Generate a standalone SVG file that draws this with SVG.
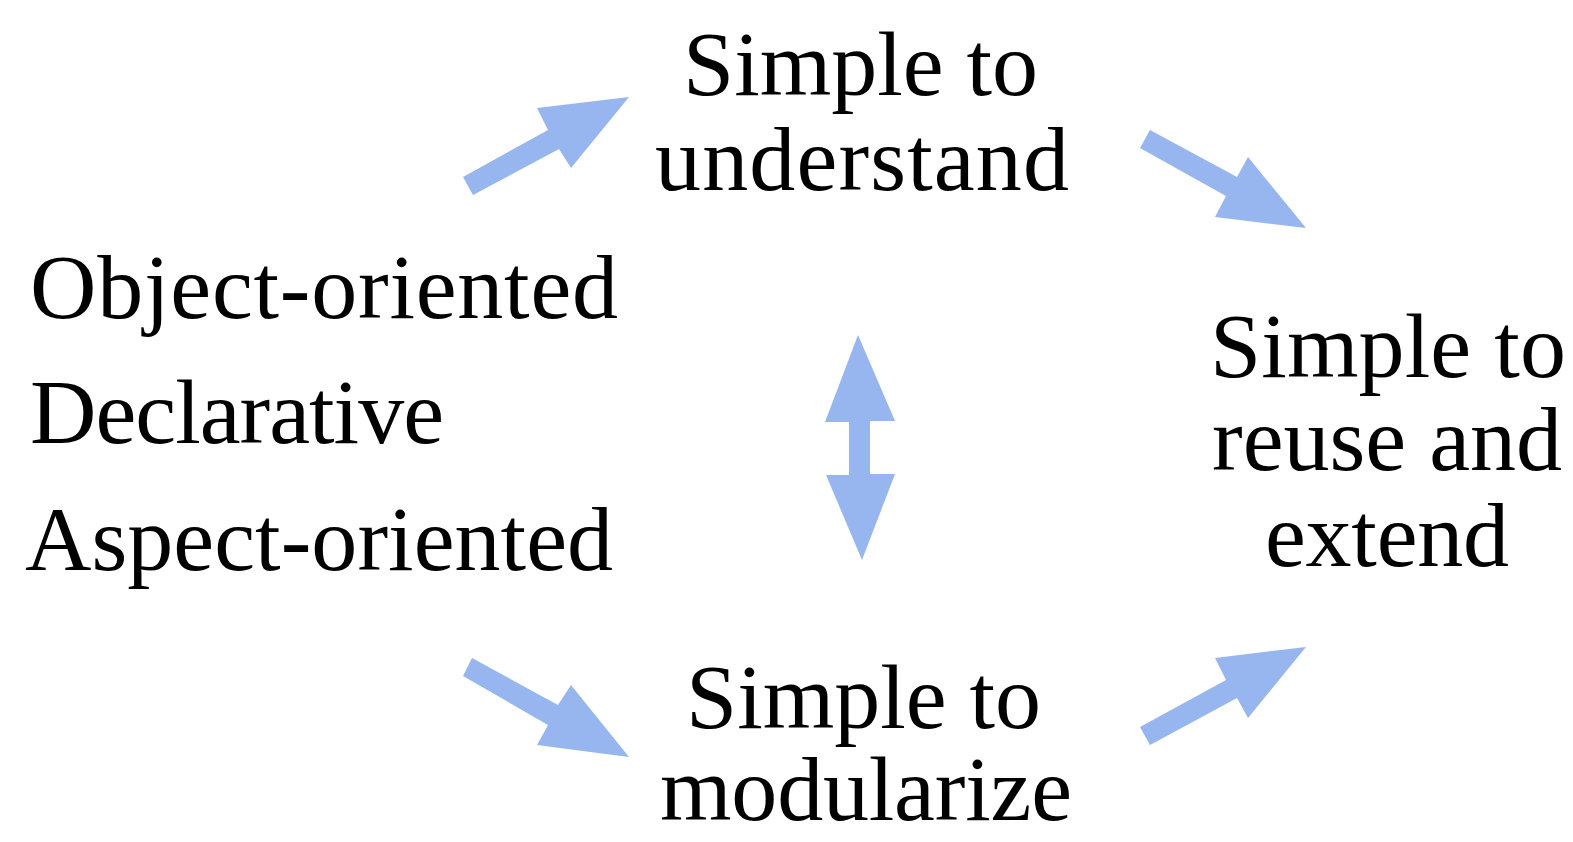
<svg xmlns="http://www.w3.org/2000/svg" width="1573" height="842" viewBox="0 0 1573 842">
  <style>
    .lbl { font-family: "Liberation Serif", "DejaVu Serif", serif; font-size: 92px; fill: #000; }
    .arrow { fill: #97B5EE; stroke: none; }
  </style>
  <rect width="1573" height="842" fill="#ffffff"/>

  <!-- Paradigms list -->
  <g id="paradigms">
    <text class="lbl" x="30" y="318" textLength="588" lengthAdjust="spacing">Object-oriented</text>
    <text class="lbl" x="30" y="443" textLength="414" lengthAdjust="spacing">Declarative</text>
    <text class="lbl" x="25" y="570" textLength="588" lengthAdjust="spacing">Aspect-oriented</text>
  </g>

  <!-- Top outcome -->
  <g id="understand">
    <text class="lbl" x="683" y="95" textLength="355" lengthAdjust="spacing">Simple to</text>
    <text class="lbl" x="655" y="190" textLength="414" lengthAdjust="spacing">understand</text>
  </g>

  <!-- Bottom outcome -->
  <g id="modularize">
    <text class="lbl" x="686" y="728" textLength="355" lengthAdjust="spacing">Simple to</text>
    <text class="lbl" x="660" y="820" textLength="412" lengthAdjust="spacing">modularize</text>
  </g>

  <!-- Right outcome -->
  <g id="reuse">
    <text class="lbl" x="1210" y="377" textLength="356" lengthAdjust="spacing">Simple to</text>
    <text class="lbl" x="1212" y="470" textLength="350" lengthAdjust="spacing">reuse and</text>
    <text class="lbl" x="1265" y="566" textLength="244" lengthAdjust="spacing">extend</text>
  </g>

  <!-- Block arrows -->
  <g id="connectors">
    <polygon class="arrow" points="463,177 548,130 537,108 629,97 571,168 559,149 473,195"/>
    <polygon class="arrow" points="1150,130 1237,177 1248,157 1306,228 1215,217 1226,196 1140,148"/>
    <polygon class="arrow" points="472,658 558,705 571,685 629,757 537,745 548,725 463,676"/>
    <polygon class="arrow" points="1140,727 1226,680 1215,658 1306,647 1248,718 1237,698 1150,745"/>
    <polygon class="arrow" points="858,335 895,421 870,421 870,474 895,474 862,560 826,475 849,475 849,422 825,422"/>
  </g>
</svg>
